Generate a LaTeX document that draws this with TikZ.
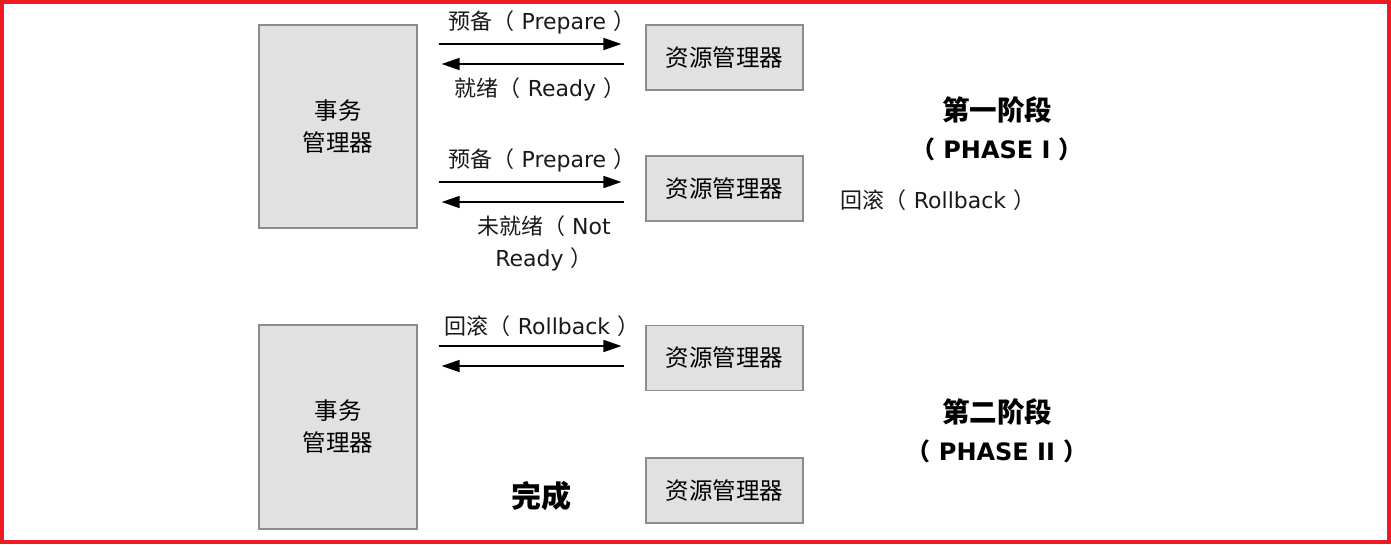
\documentclass[tikz,border=0pt]{standalone}
\usepackage{fontspec}
\setmainfont{DejaVu Sans}
\newfontfamily\cjk{Noto Sans CJK SC}
\usetikzlibrary{arrows.meta, positioning}
\definecolor{framered}{RGB}{237,28,36}
\definecolor{boxgray}{RGB}{225,225,225}
\definecolor{edgegray}{RGB}{140,140,140}

\begin{document}
\begin{tikzpicture}[x=1pt, y=-1pt,
    mgr/.style={draw=edgegray, fill=boxgray, line width=1.2pt, inner sep=0pt, align=center, font=\cjk\fontsize{23.5}{32}\selectfont},
    msg/.style={-{Triangle[length=18pt,width=12pt]}, line width=1.6pt, shorten <=21pt, shorten >=24pt},
    lbl/.style={font=\fontsize{22}{32}\selectfont, text=black!90, inner sep=0pt, align=center},
    phase/.style={font=\bfseries\fontsize{24}{38}\selectfont, inner sep=0pt, align=center}]
          \useasboundingbox (0,0) rectangle (1391,544);
          \draw[framered, line width=4pt] (2,2) rectangle (1389,542);
          % transaction managers
          \node[mgr, minimum width=158pt, minimum height=203pt] (tmA) at (338,126.5) {事务\\管理器};
          \node[mgr, minimum width=158pt, minimum height=204pt] (tmB) at (338,427) {事务\\管理器};
          % resource managers
          \foreach \n/\y in {rmA/57.5, rmB/188.5, rmC/358, rmD/490.5}
            \node[mgr, minimum width=157pt, minimum height=65pt] (\n) at (724.5,\y) {资源管理器};
          % phase one
          \draw[msg] (tmA.east |- 0,44) -- (rmA.west |- 0,44);
          \draw[msg] (rmA.west |- 0,64) -- (tmA.east |- 0,64);
          \node[lbl] (prepA) at (542,22) {{\cjk 预备（} Prepare {\cjk ）}};
          \node[lbl] (readyA) at (540,89) {{\cjk 就绪（} Ready {\cjk ）}};
          \draw[msg] (tmA.east |- 0,182) -- (rmB.west |- 0,182);
          \draw[msg] (rmB.west |- 0,202) -- (tmA.east |- 0,202);
          \node[lbl] (prepB) at (542,160) {{\cjk 预备（} Prepare {\cjk ）}};
          \node[lbl] (notready) at (544,243) {{\cjk 未就绪（} Not\\Ready {\cjk ）}};
          \node[phase] (phaseA) at (997,129) {{\cjk\fontsize{27.5}{38}\selectfont 第一阶段}\\{\cjk （} PHASE I {\cjk ）}};
          \node[lbl] (rollA) at (938,200) {{\cjk 回滚（} Rollback {\cjk ）}};
          % phase two
          \draw[msg] (tmB.east |- 0,346) -- (rmC.west |- 0,346);
          \draw[msg] (rmC.west |- 0,366) -- (tmB.east |- 0,366);
          \node[lbl] (rollB) at (542,326) {{\cjk 回滚（} Rollback {\cjk ）}};
          \node[phase, font=\cjk\bfseries\fontsize{30}{38}\selectfont] (done) at (541,496) {完成};
          \node[phase] (phaseB) at (997,431) {{\cjk\fontsize{27.5}{38}\selectfont 第二阶段}\\{\cjk （} PHASE II {\cjk ）}};
        \end{tikzpicture}
\end{document}
